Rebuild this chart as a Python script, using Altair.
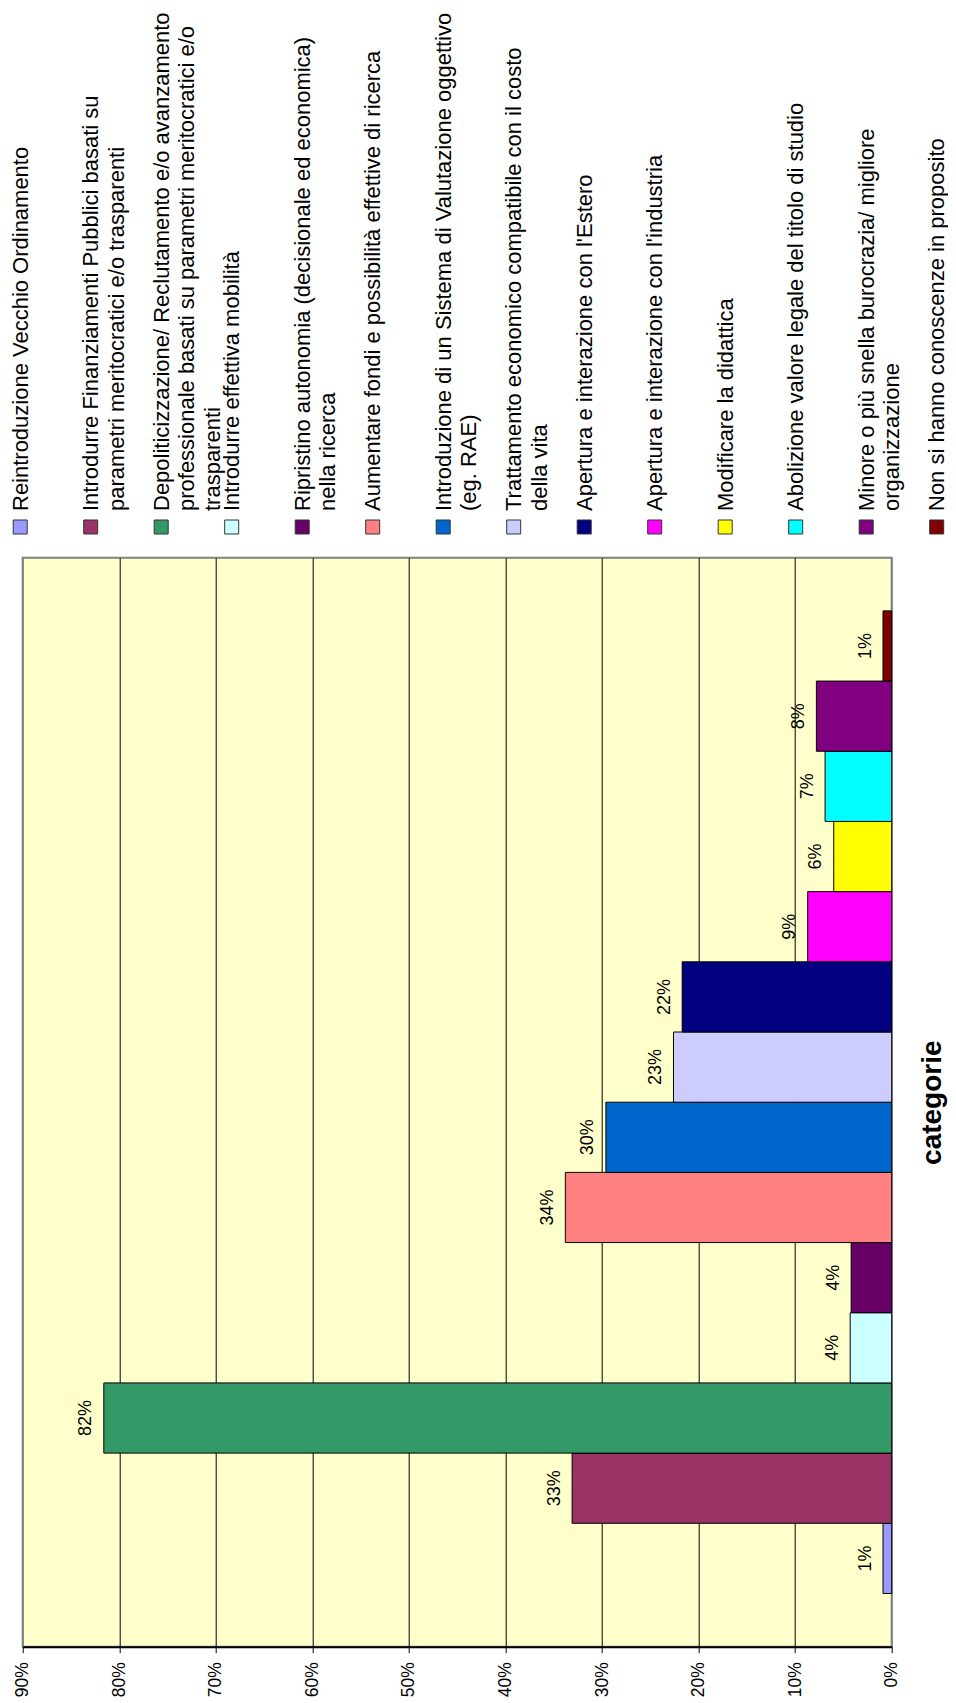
import altair as alt
import pandas as pd

FONT = "Liberation Sans"

categories = [
    "Reintroduzione Vecchio Ordinamento",
    "Introdurre Finanziamenti Pubblici basati su parametri meritocratici e/o trasparenti",
    "Depoliticizzazione/ Reclutamento e/o avanzamento professionale basati su parametri meritocratici e/o trasparenti",
    "Introdurre effettiva mobilità",
    "Ripristino autonomia (decisionale ed economica) nella ricerca",
    "Aumentare fondi e possibilità effettive di ricerca",
    "Introduzione di un Sistema di Valutazione oggettivo (eg. RAE)",
    "Trattamento economico compatibile con il costo della vita",
    "Apertura e interazione con l'Estero",
    "Apertura e interazione con l'industria",
    "Modificare la didattica",
    "Abolizione valore legale del titolo di studio",
    "Minore o più snella burocrazia/ migliore organizzazione",
    "Non si hanno conoscenze in proposito",
]

legend_labels = [
    "Reintroduzione Vecchio Ordinamento",
    "Introdurre Finanziamenti Pubblici basati su\nparametri meritocratici e/o trasparenti",
    "Depoliticizzazione/ Reclutamento e/o avanzamento\nprofessionale basati su parametri meritocratici e/o\ntrasparenti",
    "Introdurre effettiva mobilità",
    "Ripristino autonomia (decisionale ed economica)\nnella ricerca",
    "Aumentare fondi e possibilità effettive di ricerca",
    "Introduzione di un Sistema di Valutazione oggettivo\n(eg. RAE)",
    "Trattamento economico compatibile con il costo\ndella vita",
    "Apertura e interazione con l'Estero",
    "Apertura e interazione con l'industria",
    "Modificare la didattica",
    "Abolizione valore legale del titolo di studio",
    "Minore o più snella burocrazia/ migliore\norganizzazione",
    "Non si hanno conoscenze in proposito",
]

values = [0.009, 0.331, 0.816, 0.043, 0.042, 0.338, 0.296, 0.226, 0.217, 0.087, 0.060, 0.069, 0.078, 0.009]

colors = ["#9999FF", "#993366", "#339966", "#CCFFFF", "#660066", "#FF8080", "#0066CC",
          "#CCCCFF", "#000080", "#FF00FF", "#FFFF00", "#00FFFF", "#800080", "#800000"]

tick_values = [0, 0.1, 0.2, 0.3, 0.4, 0.5, 0.6, 0.7, 0.8, 0.9]

df = pd.DataFrame({"cat": categories, "legend": legend_labels, "value": values})

color_enc = alt.Color("cat:N", scale=alt.Scale(domain=categories, range=colors), legend=None)

y_enc = alt.Y(
    "cat:N",
    sort=categories[::-1],
    scale=alt.Scale(paddingInner=0, paddingOuter=0.758),
    axis=alt.Axis(
        orient="right", labels=False, ticks=False, domain=False, grid=False,
        title="categorie", titleAngle=270, titleFontSize=28, titleFontWeight="bold",
        titleFont=FONT, titleColor="black", titleX=49, titleY=544.5,
        titleAlign="center", titleBaseline="alphabetic",
    ),
)

x_enc = alt.X(
    "value:Q",
    scale=alt.Scale(domain=[0, 0.9], reverse=True, nice=False),
    axis=alt.Axis(
        values=tick_values, format=".0%", labelAngle=270, labelFontSize=17.5,
        labelFont=FONT, labelColor="black", tickSize=6, tickColor="black",
        domainColor="black", domainWidth=2, labelPadding=9, grid=True,
        gridColor={"condition": {"test": "datum.value === 0 || datum.value >= 0.85", "value": "#808080"}, "value": "black"},
        gridWidth=1, title=None, labelFlush=False, labelOverlap=False,
    ),
)

bars = alt.Chart(df).mark_bar(stroke="black", strokeWidth=1).encode(
    x=x_enc, y=y_enc, color=color_enc
)

bar_labels = alt.Chart(df).mark_text(
    angle=270, align="center", baseline="alphabetic", dy=-12.5,
    fontSize=18, font=FONT, color="black",
).encode(
    x=alt.X("value:Q"),
    y=alt.Y("cat:N", sort=categories[::-1]),
    text=alt.Text("value:Q", format=".0%"),
)

legend_x = alt.X(
    "cat:N", sort=categories,
    scale=alt.Scale(type="point", range=[-2.5, 914], padding=0),
    axis=None,
)

leg_squares = alt.Chart(df).mark_square(
    size=196, opacity=1, filled=True, stroke="#333333", strokeWidth=1
).encode(x=legend_x, y=alt.value(-30.7), color=color_enc)

leg_text = alt.Chart(df).mark_text(
    angle=270, align="left", baseline="top", dy=-9.5, fontSize=22, font=FONT,
    lineBreak="\n", lineHeight=25.5, color="black",
).encode(x=legend_x, y=alt.value(-46.7), text="legend:N")

main = alt.layer(bars, bar_labels)
leg = alt.layer(leg_squares, leg_text)

chart = (
    alt.layer(main, leg)
    .resolve_scale(x="independent")
    .properties(
        width=869, height=1089,
        autosize=alt.AutoSizeParams(type="none"),
        padding={"left": 14.7, "top": 549.7, "right": 56.3, "bottom": 52},
        background="white",
    )
    .configure_view(fill="#FFFFCC", stroke="#808080", strokeWidth=2)
)

chart.save("out.html", embed_options={"renderer": "svg", "actions": False})
